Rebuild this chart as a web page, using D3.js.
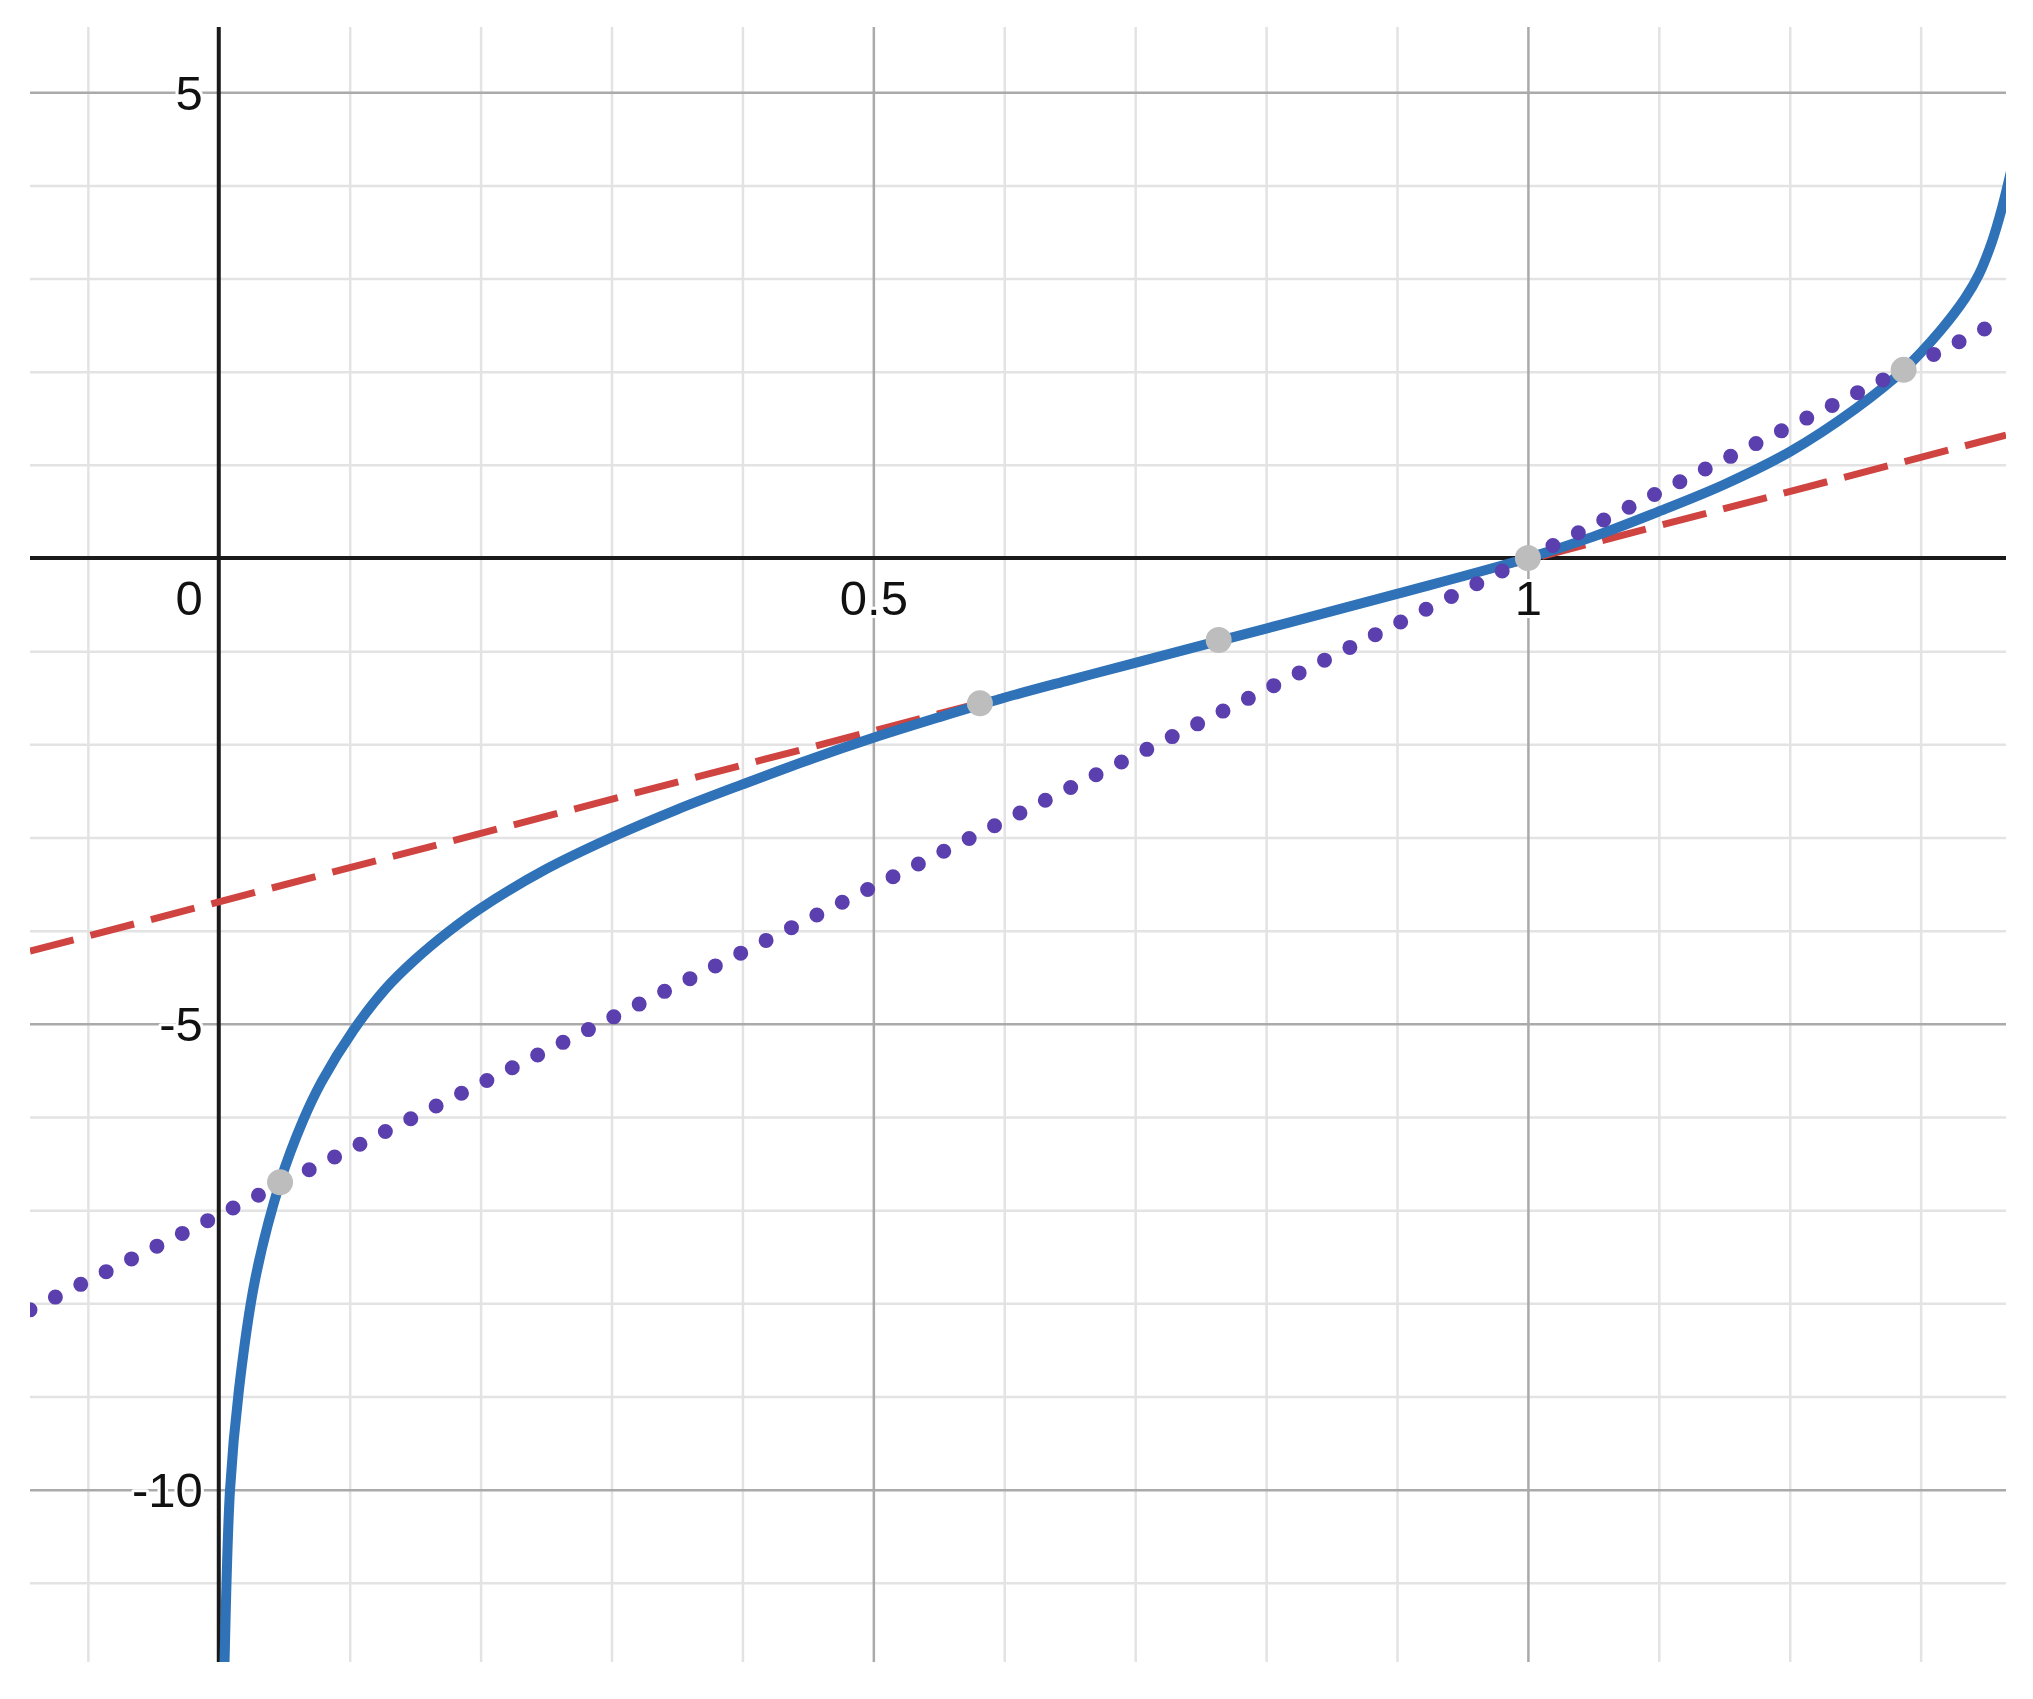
<!DOCTYPE html>
<html>
<head>
<meta charset="utf-8">
<script src="https://cdn.jsdelivr.net/npm/d3@7"></script>
<style>
  html, body { margin: 0; padding: 0; background: #fff; }
  svg { display: block; }
  .label text { font-family: "Liberation Sans", Arial, sans-serif; font-size: 49px; fill: #111;
    stroke: #fff; stroke-width: 6px; paint-order: stroke; stroke-linejoin: round; }
</style>
</head>
<body>
<div id="chart"></div>
<script>
// grid + tick values
const xMinorGrid = [-0.1, 0.1, 0.2, 0.3, 0.4, 0.6, 0.7, 0.8, 0.9, 1.1, 1.2, 1.3]
const xMajorGrid = [0.5, 1]
const yMinorGrid = [4, 3, 2, 1, -1, -2, -3, -4, -6, -7, -8, -9, -11]
const yMajorGrid = [5, -5, -10]
const xTickLabels = [0.5, 1]
const yTickLabels = [5, -5, -10]
const originLabel = '0'

// blue curve
const curveX = [0.0036, 0.0044, 0.0086, 0.0153, 0.0277, 0.0468, 0.0646, 0.0786, 0.1028, 0.127, 0.15, 0.1755, 0.2, 0.25, 0.3, 0.35, 0.4, 0.45, 0.5, 0.55, 0.6, 0.65, 0.7, 0.8, 0.9, 1.0, 1.05, 1.1, 1.15, 1.2, 1.25, 1.287, 1.315, 1.334, 1.3444, 1.3546, 1.3622, 1.369]
const curveY = [-12.4, -11.85, -10.0, -8.94, -7.75, -6.70, -6.03, -5.62, -5.07, -4.63, -4.31, -4.01, -3.76, -3.34, -3.00, -2.70, -2.43, -2.17, -1.93, -1.71, -1.50, -1.31, -1.125, -0.757, -0.385, 0, 0.23, 0.50, 0.79, 1.14, 1.60, 2.02, 2.44, 2.79, 3.04, 3.40, 3.76, 4.15]

// red dashed tangent
const tangentX = [-0.1442, 1.3652]
const tangentY = [-4.22, 1.32]

// purple dotted secant
const secantX = [-0.1442, 1.3652]
const secantY = [-8.07, 2.575]

// gray marked points
const pointX = [0.0468, 0.5814, 0.7638, 1, 1.287]
const pointY = [-6.70, -1.56, -0.88, 0, 2.02]

const W = 2033, H = 1699
const box = {left: 30, right: 2006, top: 27, bottom: 1662}

const x = d3.scaleLinear().domain([-0.1442, 1.3652]).range([box.left, box.right])
const y = d3.scaleLinear().domain([-11.85, 5.70]).range([box.bottom, box.top])

const svg = d3.select('#chart').append('svg')
    .attr('width', W)
    .attr('height', H)

svg.append('rect').attr('width', W).attr('height', H).attr('fill', '#fff')

svg.append('clipPath').attr('id', 'plot')
    .append('rect')
        .attr('x', box.left).attr('y', box.top)
        .attr('width', box.right - box.left).attr('height', box.bottom - box.top)

const plotW = box.right - box.left
const plotH = box.bottom - box.top

// gridlines through d3 axes
const grid = (xVals, yVals, color, width) => {
    const gx = svg.append('g')
        .attr('transform', `translate(0, ${box.bottom})`)
        .call(d3.axisBottom(x).tickValues(xVals).tickSize(-plotH).tickFormat(''))
    const gy = svg.append('g')
        .attr('transform', `translate(${box.left}, 0)`)
        .call(d3.axisLeft(y).tickValues(yVals).tickSize(-plotW).tickFormat(''))
    ;[gx, gy].forEach(g => {
        g.select('.domain').remove()
        g.selectAll('line').attr('stroke', color).attr('stroke-width', width)
    })
}
grid(xMinorGrid, yMinorGrid, '#e3e3e3', 2.5)
grid(xMajorGrid, yMajorGrid, '#aaaaaa', 2.5)

// axes
svg.append('line')
    .attr('x1', box.left).attr('x2', box.right)
    .attr('y1', y(0)).attr('y2', y(0))
    .attr('stroke', '#1a1a1a').attr('stroke-width', 4)
svg.append('line')
    .attr('x1', x(0)).attr('x2', x(0))
    .attr('y1', box.top).attr('y2', box.bottom)
    .attr('stroke', '#1a1a1a').attr('stroke-width', 4)

// tick labels
const yLab = svg.append('g').attr('class', 'label')
    .attr('transform', `translate(${x(0)}, 0)`)
    .call(d3.axisLeft(y).tickValues(yTickLabels).tickSize(0).tickPadding(16).tickFormat(d => d))
yLab.select('.domain').remove()
yLab.selectAll('text').attr('font-size', null).attr('font-family', null).attr('dy', '0.35em')

const xLab = svg.append('g').attr('class', 'label')
    .attr('transform', `translate(0, ${y(0)})`)
    .call(d3.axisBottom(x).tickValues(xTickLabels).tickSize(0).tickPadding(22).tickFormat(d => d))
xLab.select('.domain').remove()
xLab.selectAll('text').attr('font-size', null).attr('font-family', null)

svg.append('g').attr('class', 'label')
    .append('text')
        .attr('x', x(0) - 16)
        .attr('y', y(0) + 22)
        .attr('dy', '0.71em')
        .attr('text-anchor', 'end')
        .text(originLabel)

const layer = svg.append('g').attr('clip-path', 'url(#plot)')

const straight = d3.line()
    .x(d => x(d[0]))
    .y(d => y(d[1]))

// tangent (red dashed)
layer.append('path')
    .datum(d3.zip(tangentX, tangentY))
    .attr('d', straight)
    .attr('fill', 'none')
    .attr('stroke', '#cf4440')
    .attr('stroke-width', 7)
    .attr('stroke-dasharray', '45 17.5')

// curve (blue)
const smooth = d3.line()
    .x(d => x(d[0]))
    .y(d => y(d[1]))
    .curve(d3.curveCatmullRom.alpha(0.5))

layer.append('path')
    .datum(d3.zip(curveX, curveY))
    .attr('d', smooth)
    .attr('fill', 'none')
    .attr('stroke', '#2f72b8')
    .attr('stroke-width', 10)
    .attr('stroke-linejoin', 'round')

// secant (purple dotted)
layer.append('path')
    .datum(d3.zip(secantX, secantY))
    .attr('d', straight)
    .attr('fill', 'none')
    .attr('stroke', '#5c3fae')
    .attr('stroke-width', 15)
    .attr('stroke-linecap', 'round')
    .attr('stroke-dasharray', '0 28.4')

// points
layer.selectAll('circle')
    .data(d3.zip(pointX, pointY))
    .enter()
    .append('circle')
        .attr('cx', d => x(d[0]))
        .attr('cy', d => y(d[1]))
        .attr('r', 13)
        .attr('fill', '#bdbdbd')
</script>
</body>
</html>
